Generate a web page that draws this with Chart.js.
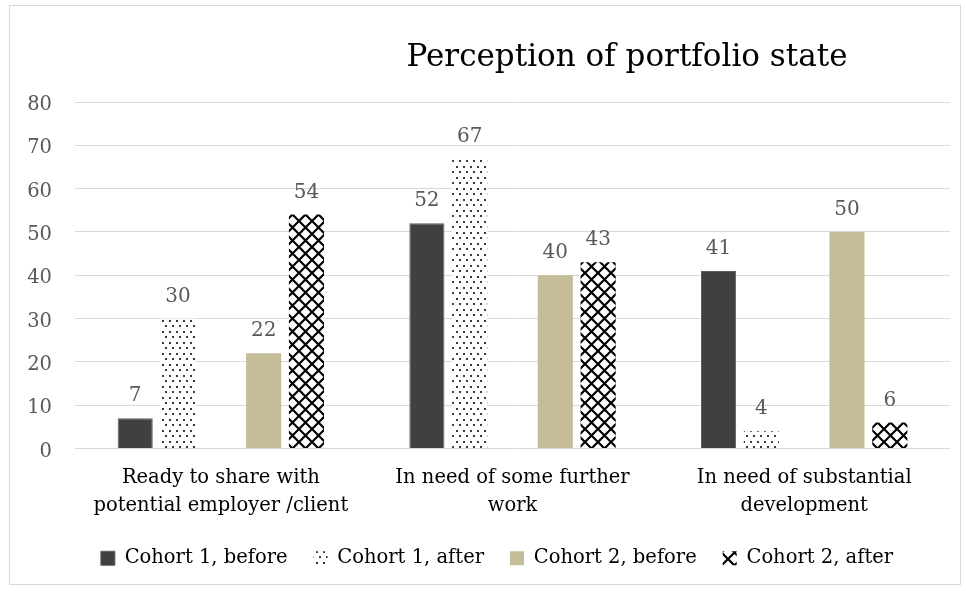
<!DOCTYPE html>
<html>
<head>
<meta charset="utf-8">
<script src="https://cdn.jsdelivr.net/npm/chart.js@4/dist/chart.umd.min.js"></script>
<style>
  html, body { margin: 0; padding: 0; background: #fff; }
  #wrap { position: relative; width: 966px; height: 591px; }
  #moldura { position: absolute; left: 9px; top: 5px; width: 952px; height: 580px; border: 1px solid #d9d9d9; box-sizing: border-box; }
  #grafico { position: absolute; left: 0; top: 0; }
</style>
</head>
<body>
<div id="wrap">
  <div id="moldura"></div>
  <canvas id="grafico" width="966" height="591"></canvas>
</div>
<script>
// dados
const categories = [
  ["Ready to share with", "potential employer /client"],
  ["In need of some further", "work"],
  ["In need of substantial", "development"]
];
const cohort1Before = [7, 52, 41];
const cohort1After = [30, 67, 4];
const cohort2Before = [22, 40, 50];
const cohort2After = [54, 43, 6];
const seriesNames = ["Cohort 1, before", "Cohort 1, after", "Cohort 2, before", "Cohort 2, after"];
const yMin = 0, yMax = 80, yStep = 10;

const fonte = "'DejaVu Serif', serif";

// padrão pontilhado (Cohort 1, after)
function padraoPontos() {
  const c = document.createElement("canvas");
  c.width = 7; c.height = 11;
  const g = c.getContext("2d");
  g.fillStyle = "#fff";
  g.fillRect(0, 0, 7, 11);
  g.fillStyle = "#3a3a3a";
  g.fillRect(1, 1, 2, 2);
  g.fillRect(4, 6, 2, 2);
  return g.createPattern(c, "repeat");
}

// padrão de losangos (Cohort 2, after)
function padraoLosango() {
  const c = document.createElement("canvas");
  c.width = 13; c.height = 13;
  const g = c.getContext("2d");
  g.fillStyle = "#fff";
  g.fillRect(0, 0, 13, 13);
  g.strokeStyle = "#000";
  g.lineWidth = 2.2;
  g.beginPath();
  g.moveTo(-1, -1); g.lineTo(14, 14);
  g.moveTo(14, -1); g.lineTo(-1, 14);
  g.stroke();
  return g.createPattern(c, "repeat");
}

// rótulos em cima das barras
const rotulosPlugin = {
  id: "rotulos",
  afterDatasetsDraw(chart) {
    const ctx = chart.ctx;
    ctx.save();
    ctx.font = "20px " + fonte;
    ctx.fillStyle = "#595959";
    ctx.textAlign = "center";
    ctx.textBaseline = "bottom";
    chart.data.datasets.forEach((ds, i) => {
      if (ds.spacer) return;
      const meta = chart.getDatasetMeta(i);
      meta.data.forEach((bar, j) => {
        ctx.fillText(String(ds.data[j]), bar.x, bar.y - 12);
      });
    });
    ctx.restore();
  }
};

// título deslocado para a direita, como no original
const tituloPlugin = {
  id: "tituloDeslocado",
  afterDraw(chart) {
    const ctx = chart.ctx;
    ctx.save();
    ctx.font = "31px " + fonte;
    ctx.fillStyle = "#000";
    ctx.textAlign = "center";
    ctx.textBaseline = "alphabetic";
    ctx.fillText("Perception of portfolio state", 627, 66);
    ctx.restore();
  }
};

// empurra a legenda um pouco para a direita
const legendaPlugin = {
  id: "legendaDeslocada",
  afterLayout(chart) {
    if (chart.legend) {
      chart.legend.left += 17;
      chart.legend.right += 17;
    }
  }
};

const ctx = document.getElementById("grafico").getContext("2d");

new Chart(ctx, {
  type: "bar",
  data: {
    labels: categories,
    datasets: [
      { label: seriesNames[0], data: cohort1Before, backgroundColor: "#404040", borderColor: "#5f5f5f", borderWidth: 1 },
      { label: seriesNames[1], data: cohort1After, backgroundColor: padraoPontos(), borderWidth: 0 },
      { label: "", data: [null, null, null], spacer: true }, // espaço vazio entre os grupos
      { label: seriesNames[2], data: cohort2Before, backgroundColor: "#c4bd97", borderWidth: 0 },
      { label: seriesNames[3], data: cohort2After, backgroundColor: padraoLosango(), borderWidth: 0 }
    ]
  },
  options: {
    responsive: false,
    animation: false,
    categoryPercentage: 0.734,
    barPercentage: 0.82,
    layout: { padding: { top: 102, left: 10, right: 16, bottom: 13 } },
    plugins: {
      title: { display: false },
      tooltip: { enabled: false },
      legend: {
        position: "bottom",
        labels: {
          font: { family: fonte, size: 19.5 },
          color: "#000",
          boxWidth: 14,
          boxHeight: 14,
          padding: 26,
          filter: (item, data) => !data.datasets[item.datasetIndex].spacer
        }
      }
    },
    scales: {
      x: {
        grid: { display: false },
        border: { display: false },
        ticks: {
          font: { family: fonte, size: 19.5, lineHeight: 1.42 },
          color: "#000",
          padding: 8,
          maxRotation: 0,
          autoSkip: false
        },
        afterFit: (axis) => { axis.height = 74; }
      },
      y: {
        min: yMin,
        max: yMax,
        grid: { color: "#d9d9d9", lineWidth: 1, drawTicks: false },
        border: { display: false },
        ticks: {
          stepSize: yStep,
          font: { family: fonte, size: 19.5 },
          color: "#595959",
          padding: 23,
          labelOffset: 3
        },
        afterFit: (axis) => { axis.width = 65; }
      }
    }
  },
  plugins: [rotulosPlugin, tituloPlugin, legendaPlugin]
});
</script>
</body>
</html>
